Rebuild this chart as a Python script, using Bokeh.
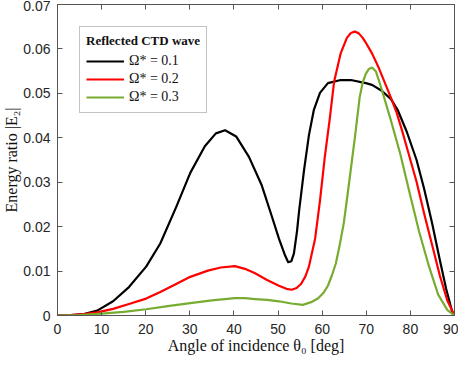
from bokeh.plotting import figure
from bokeh.models import (LinearAxis, SingleIntervalTicker, Range1d, Legend, LegendItem,
                          CustomJSTickFormatter)
from bokeh.embed import file_html
from bokeh.resources import INLINE

# Angle of incidence [deg] and energy ratio |E2|
theta_01 = [0, 3, 6, 9, 12.6, 16.2, 20.1, 23.3, 26.9, 30.1, 33.4, 35.9, 38.0, 40.5, 43.4, 46.3,
            48.4, 50.2, 51.6, 52.3, 53.0, 53.6, 54.3, 54.8, 55.9, 57.0, 58.1, 59.5, 61.3, 64.2, 66.5,
            69.9, 71.3, 73.5, 75.6, 77.1, 79.2, 81.4, 83.1, 84.9, 86.7, 88.1, 89.6, 90]
e2_01 = [0, 0.0001, 0.0003, 0.0011, 0.0032, 0.0064, 0.0110, 0.0162, 0.0244, 0.0321, 0.0381,
         0.0410, 0.0417, 0.0403, 0.0357, 0.0293, 0.0229, 0.0173, 0.0135, 0.0120, 0.0122, 0.0140,
         0.0190, 0.0238, 0.0328, 0.0406, 0.0462, 0.0501, 0.0523, 0.0530, 0.0530, 0.0523, 0.0519,
         0.0506, 0.0487, 0.0463, 0.0413, 0.0350, 0.0286, 0.0209, 0.0124, 0.0060, 0.0004, 0]

theta_02 = [0, 3, 6, 9, 12.6, 16.2, 20.1, 23.3, 26.9, 30.1, 34.1, 37.0, 40.2, 42.5, 44.8, 47.5,
            50.2, 51.9, 53.1, 54.2, 55.2, 56.2, 57.0, 58.4, 59.5, 60.6, 61.7, 62.7, 64.2, 65.6,
            66.5, 67.4, 68.3, 69.1, 69.9, 71.3, 72.8, 74.2, 75.6, 76.9, 78.0, 79.2, 81.4, 83.1,
            84.9, 86.7, 88.4, 90]
e2_02 = [0, 0.0001, 0.0003, 0.0007, 0.0015, 0.0026, 0.0038, 0.0053, 0.0071, 0.0087, 0.0101,
         0.0108, 0.0111, 0.0105, 0.0095, 0.0080, 0.0067, 0.0060, 0.0058, 0.0062, 0.0071, 0.0088,
         0.0110, 0.0173, 0.0258, 0.0357, 0.0441, 0.0526, 0.0590, 0.0625, 0.0636, 0.0639, 0.0635,
         0.0626, 0.0614, 0.0590, 0.0558, 0.0524, 0.0490, 0.0456, 0.0420, 0.0378, 0.0301, 0.0230,
         0.0160, 0.0089, 0.0033, 0]

theta_03 = [0, 5, 10, 15, 20.1, 25, 30.1, 35, 40.2, 42.5, 44.8, 47.5, 50.2, 53, 55.6, 57.5, 59.1,
            60.3, 61.3, 62.2, 63.1, 64.0, 64.9, 65.6, 66.3, 67.4, 68.5, 69.2, 69.9, 70.6, 71.3,
            72.2, 73.4, 75.5, 77.7, 79.9, 82.0, 84.2, 86.3, 88.4, 90]
e2_03 = [0, 0.0001, 0.0004, 0.0008, 0.0014, 0.0021, 0.0028, 0.0034, 0.0039, 0.0039, 0.0037,
         0.0035, 0.0032, 0.0027, 0.0024, 0.0030, 0.0039, 0.0051, 0.0067, 0.0090, 0.0117, 0.0160,
         0.0208, 0.0260, 0.0314, 0.0399, 0.0491, 0.0525, 0.0544, 0.0555, 0.0558, 0.0549, 0.0512,
         0.0442, 0.0364, 0.0273, 0.0188, 0.0111, 0.0047, 0.0012, 0]

series_labels = ["\u03a9* = 0.1", "\u03a9* = 0.2", "\u03a9* = 0.3"]
series_colors = ["#000000", "#ff0000", "#77ac30"]
legend_title = "Reflected CTD wave"
x_label = "Angle of incidence \u03b8\u2080 [deg]"
y_label = "Energy ratio |E\u2082|"

AX = "#555555"
TXT = "#262626"

p = figure(width=458, height=356, output_backend="svg", toolbar_location=None,
           x_range=Range1d(0, 90), y_range=Range1d(0, 0.07),
           min_border_left=10, min_border_right=0, min_border_top=0, min_border_bottom=0)
p.grid.visible = False
p.outline_line_color = AX
p.outline_line_width = 1
p.background_fill_color = "white"
p.border_fill_color = "white"

renderers = []
for th, e, c in zip([theta_01, theta_02, theta_03], [e2_01, e2_02, e2_03], series_colors):
    r = p.line(th, e, line_color=c, line_width=2.2, line_join="round")
    renderers.append(r)

# main axes
p.xaxis.ticker = SingleIntervalTicker(interval=10)
p.yaxis.ticker = SingleIntervalTicker(interval=0.01)
p.yaxis.major_label_overrides = {0: "0"}
for ax in [p.xaxis[0], p.yaxis[0]]:
    ax.axis_line_color = AX
    ax.major_tick_line_color = AX
    ax.major_tick_in = 5
    ax.major_tick_out = 0
    ax.minor_tick_line_color = None
    ax.major_label_text_font = "Liberation Sans"
    ax.major_label_text_font_size = "14px"
    ax.major_label_text_color = TXT
    ax.axis_label_text_font = "Liberation Serif"
    ax.axis_label_text_font_size = "16px"
    ax.axis_label_text_font_style = "normal"
    ax.axis_label_text_color = "#111111"
p.xaxis.axis_label = x_label
p.yaxis.axis_label = y_label
p.xaxis.major_label_standoff = 4
p.xaxis.axis_label_standoff = 0
p.yaxis.major_label_standoff = 3
p.yaxis.axis_label_standoff = 0

# mirrored ticks on top and right (no labels)
blank = CustomJSTickFormatter(code="return ''")
top = LinearAxis(ticker=SingleIntervalTicker(interval=10), formatter=blank,
                 major_label_standoff=0, major_tick_in=5, major_tick_out=0,
                 minor_tick_line_color=None, axis_line_color=AX, major_tick_line_color=AX)
right = LinearAxis(ticker=SingleIntervalTicker(interval=0.01), formatter=blank,
                   major_label_standoff=0, major_tick_in=5, major_tick_out=0,
                   minor_tick_line_color=None, axis_line_color=AX, major_tick_line_color=AX)
p.add_layout(top, "above")
p.add_layout(right, "right")

legend = Legend(items=[LegendItem(label=l, renderers=[r]) for l, r in zip(series_labels, renderers)],
                location="top_left", title=legend_title)
legend.title_text_font = "Liberation Serif"
legend.title_text_font_size = "13px"
legend.title_text_font_style = "bold"
legend.title_text_color = "#111111"
legend.label_text_font = "Liberation Serif"
legend.label_text_font_size = "14px"
legend.label_text_color = "#111111"
legend.border_line_color = "#888888"
legend.border_line_width = 1
legend.background_fill_alpha = 1
legend.margin = 22
legend.padding = 6
legend.spacing = 0
legend.label_height = 18
legend.glyph_height = 18
legend.glyph_width = 38
legend.label_standoff = 5
legend.title_standoff = 3
p.add_layout(legend)

open("out.html", "w").write(file_html(p, INLINE))
